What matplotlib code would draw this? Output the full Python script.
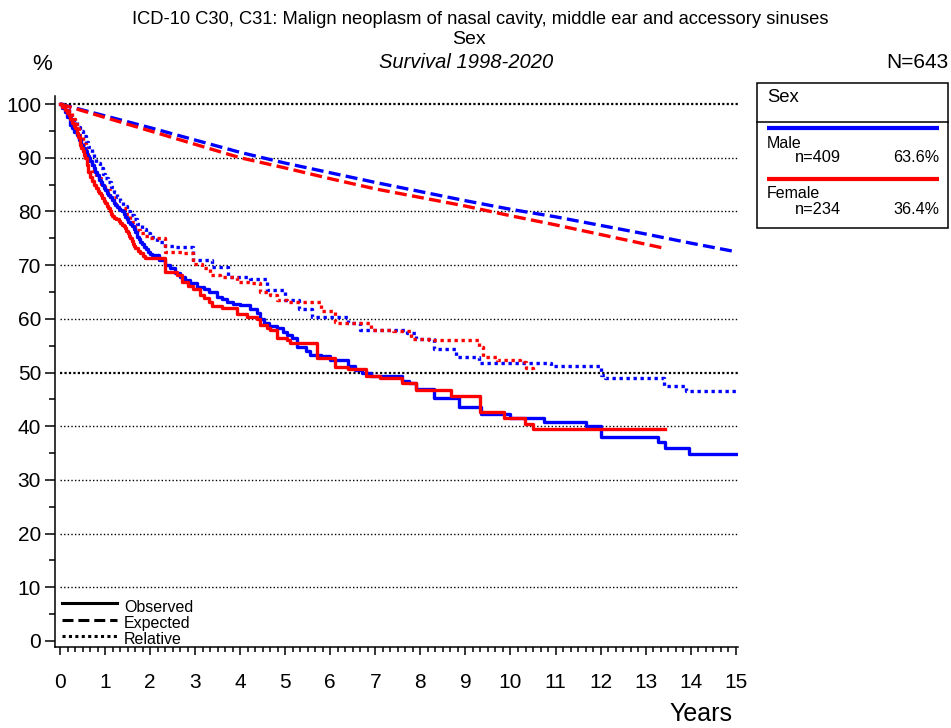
import matplotlib
matplotlib.use('Agg')
import matplotlib.pyplot as plt
from matplotlib.ticker import MultipleLocator
from matplotlib.patches import Rectangle

plt.rcParams['font.family'] = ['Liberation Sans', 'DejaVu Sans']

# ---------------- data ----------------
male_obs_t = [0, 0.05, 0.1, 0.15, 0.22, 0.27, 0.32, 0.37, 0.42, 0.47, 0.52, 0.56, 0.6, 0.64, 0.67,
              0.71, 0.75, 0.78, 0.82, 0.86, 0.9, 0.93, 0.97, 1.0, 1.04, 1.07, 1.11, 1.15, 1.19, 1.22,
              1.26, 1.3, 1.34, 1.37, 1.41, 1.45, 1.49, 1.52, 1.56, 1.6, 1.64, 1.67, 1.72, 1.75, 1.78,
              1.83, 1.87, 1.92, 1.96, 2.0, 2.05, 2.2, 2.33, 2.44, 2.55,
              2.67, 2.78, 2.89, 3.05, 3.19, 3.3, 3.48, 3.6, 3.7, 3.85, 4.0, 4.22, 4.37, 4.45, 4.52,
              4.65, 4.81, 4.95, 5.04, 5.15, 5.27, 5.45, 5.56, 5.8, 6.0, 6.4, 6.55, 6.7, 6.9, 7.6,
              7.75, 7.9, 8.3, 8.85, 9.35, 10.0, 10.75, 11.67, 12.0, 13.27, 13.44, 13.96, 15.0]
male_obs_s = [100, 99.3, 98.5, 97.5, 96.1, 95.5, 94.8, 94.2, 93.3, 92.4, 91.8, 91.2, 90.4, 89.9, 89.4,
              88.6, 88.0, 87.4, 86.7, 85.9, 85.4, 84.9, 84.3, 84.0, 83.5, 83.1, 82.6, 82.2, 81.6, 81.2,
              80.8, 80.5, 80.2, 80.0, 79.5, 79.0, 78.5, 78.1, 77.6, 77.2, 76.7, 76.2, 75.3, 74.8, 74.4,
              73.9, 73.4, 73.0, 72.5, 72.1, 71.8, 71.0, 70.0, 69.4, 68.5,
              67.8, 67.2, 66.6, 66.0, 65.6, 65.0, 64.1, 63.6, 63.2, 62.8, 62.5, 61.9, 61.0, 60.0, 59.2,
              58.6, 58.2, 57.5, 57.0, 56.5, 54.8, 54.0, 53.3, 53.0, 52.3, 51.2, 50.5, 50.0, 49.4, 48.5,
              48.0, 47.0, 45.3, 43.6, 42.3, 41.6, 40.8, 40.0, 37.9, 37.0, 36.0, 34.8, 34.8]

female_obs_t = [0, 0.05, 0.1, 0.15, 0.19, 0.23, 0.27, 0.3, 0.33, 0.37, 0.4, 0.44, 0.47, 0.5, 0.53,
                0.56, 0.6, 0.63, 0.67, 0.7, 0.75, 0.81, 0.84, 0.87, 0.9, 0.93, 0.97, 1.0, 1.04, 1.07,
                1.1, 1.13, 1.16, 1.19, 1.25, 1.3, 1.34, 1.38, 1.41, 1.44, 1.47, 1.5, 1.53, 1.56, 1.59,
                1.62, 1.65, 1.67, 1.73, 1.78, 1.84, 1.89, 2.33, 2.59, 2.7,
                2.85, 2.96, 3.11, 3.2, 3.3, 3.37, 3.6, 3.93, 4.15, 4.37, 4.44, 4.6, 4.67, 4.81, 5.04,
                5.1, 5.7, 6.1, 6.4, 6.8, 7.1, 7.6, 7.9, 8.67, 9.33, 9.85, 10.33, 10.5, 13.44]
female_obs_s = [100, 99.4, 98.8, 98.3, 97.9, 97.2, 96.5, 96.0, 95.5, 94.6, 93.8, 92.4, 91.8, 91.2, 90.6,
                90.0, 88.6, 87.4, 86.5, 85.6, 85.0, 84.4, 83.9, 83.4, 83.0, 82.5, 82.0, 81.5, 81.0, 80.6,
                80.1, 79.6, 79.2, 78.8, 78.5, 78.2, 77.8, 77.5, 77.2, 76.9, 76.4, 76.0, 75.5, 75.0, 74.5,
                74.0, 73.5, 73.1, 72.6, 72.2, 71.7, 71.3, 68.7, 68.1, 66.9,
                66.2, 65.6, 64.4, 63.8, 63.2, 62.3, 62.0, 60.9, 60.3, 59.9, 58.9, 58.3, 58.0, 56.5, 56.0,
                55.5, 52.7, 51.0, 50.7, 49.3, 48.9, 48.0, 46.7, 45.7, 42.7, 41.6, 40.5, 39.4, 39.4]

male_exp_t = [0, 1, 2, 3, 4, 5, 6, 7, 8, 9, 10, 11, 12, 13, 14, 15]
male_exp_s = [100, 97.8, 95.6, 93.3, 91.0, 89.0, 87.2, 85.4, 83.7, 82.0, 80.4, 79.0, 77.4, 75.8, 74.1, 72.5]

female_exp_t = [0, 1, 2, 3, 4, 5, 6, 7, 8, 9, 10, 11, 12, 13, 13.44]
female_exp_s = [100, 97.5, 95.0, 92.5, 90.0, 88.1, 86.1, 84.2, 82.6, 81.0, 79.2, 77.5, 75.7, 73.9, 73.1]

male_rel_t = [0, 0.1, 0.2, 0.3, 0.38, 0.44, 0.5, 0.57, 0.63, 0.7, 0.76, 0.81, 0.88, 0.95, 1.0,
              1.07, 1.13, 1.2, 1.27, 1.33, 1.4, 1.48, 1.56, 1.64, 1.72, 1.81, 1.9, 2.0, 2.15,
              2.33, 2.56, 2.96, 3.37, 3.74,
              4.22, 4.59, 5.0, 5.3, 5.6, 6.4, 6.67, 7.2, 7.7, 7.9, 8.3, 8.8, 9.3, 10.9, 12.0, 12.1,
              13.4, 13.9, 15.0]
male_rel_s = [100, 98.9, 97.7, 96.6, 95.7, 95.0, 94.0, 92.9, 92.0, 90.9, 89.9, 89.1, 88.0, 86.9, 86.3,
              85.4, 84.5, 83.6, 82.7, 81.9, 81.1, 80.1, 79.4, 78.6, 77.7, 76.8, 76.0, 75.3, 74.3,
              73.6, 73.3, 70.9, 69.7, 67.8,
              67.5, 65.4, 63.5, 61.9, 60.4, 59.2, 57.9, 58.0, 57.3, 56.2, 54.4, 52.9, 51.8, 51.2, 49.5, 48.9,
              47.5, 46.6, 46.6]

female_rel_t = [0, 0.1, 0.19, 0.26, 0.33, 0.42, 0.5, 0.57, 0.63, 0.72, 0.81, 0.9, 1.0, 1.1, 1.19,
                1.3, 1.44, 1.55, 1.67, 1.78, 1.89, 2.0, 2.33, 2.74, 2.96,
                3.15, 3.33, 3.56, 3.93, 4.22, 4.44, 4.67, 4.81, 5.04, 5.8, 6.1, 6.15, 6.9, 7.4, 7.8,
                8.2, 9.3, 9.4, 9.7, 10.2, 10.35, 10.5]
female_rel_s = [100, 99.0, 98.3, 97.3, 96.2, 94.3, 92.5, 90.7, 89.0, 87.6, 86.3, 85.1, 84.0, 82.6, 81.3,
                80.6, 79.6, 78.0, 76.5, 76.0, 75.5, 75.0, 72.5, 72.2, 70.3,
                69.4, 68.1, 67.8, 66.9, 66.6, 65.0, 64.4, 63.5, 63.2, 61.5, 59.5, 59.2, 58.0, 57.8, 56.2,
                56.0, 54.8, 52.8, 52.3, 52.0, 50.8, 50.2]

groups = ['Male', 'Female']
group_n = [409, 234]
group_pct = ['63.6%', '36.4%']
total_n = 643
y_ticks = [0, 10, 20, 30, 40, 50, 60, 70, 80, 90, 100]
x_ticks = list(range(0, 16))

# ---------------- figure ----------------
W, H = 951, 728
fig = plt.figure(figsize=(W / 100, H / 100), dpi=100)


def fx(px):
    return px / W


def fy(py):
    return 1 - py / H


ax = fig.add_axes([fx(55), fy(647), fx(738) - fx(55), fy(96) - fy(647)])
ax.set_xlim(-0.111, 15.05)
ax.set_ylim(-1.12, 101.5)

for s in ['top', 'right']:
    ax.spines[s].set_visible(False)
for s in ['left', 'bottom']:
    ax.spines[s].set_linewidth(1.1)

# grid lines
for v in y_ticks[1:]:
    if v in (50, 100):
        ax.plot([0, 15.05], [v, v], color='black', lw=1.6, ls=(0, (1, 1)), zorder=1)
    else:
        ax.plot([0, 15.05], [v, v], color='black', lw=1.0, ls=(0, (1, 1.6)), zorder=1)

blue = '#0000ff'
red = '#ff0000'
lw = 2.4
dash = (0, (3.6, 1.6))
dot = (0, (1, 1.1))
ax.plot(male_exp_t, male_exp_s, color=blue, lw=lw, ls=dash, zorder=3)
ax.plot(female_exp_t, female_exp_s, color=red, lw=lw, ls=dash, zorder=3)
ax.plot(male_rel_t, male_rel_s, color=blue, lw=lw, ls=dot, drawstyle='steps-post', zorder=3)
ax.plot(female_rel_t, female_rel_s, color=red, lw=lw, ls=dot, drawstyle='steps-post', zorder=3)
ax.plot(male_obs_t, male_obs_s, color=blue, lw=lw, drawstyle='steps-post', zorder=4)
ax.plot(female_obs_t, female_obs_s, color=red, lw=lw, drawstyle='steps-post', zorder=4)

ax.set_yticks(y_ticks)
ax.set_yticklabels([str(v) for v in y_ticks])
ax.yaxis.set_minor_locator(MultipleLocator(5))
ax.set_xticks(x_ticks)
ax.set_xticklabels([str(v) for v in x_ticks])
ax.xaxis.set_minor_locator(MultipleLocator(1 / 6))
ax.tick_params(axis='y', which='major', labelsize=15, length=7, width=1.1, pad=3)
ax.tick_params(axis='y', which='minor', length=4, width=1.1)
ax.tick_params(axis='x', which='major', labelsize=15, length=6, width=1.1, pad=13)
ax.tick_params(axis='x', which='minor', length=3.5, width=1.1)

# ---------------- overlay (pixel coordinates) ----------------
ov = fig.add_axes([0, 0, 1, 1])
ov.set_xlim(0, W)
ov.set_ylim(H, 0)
ov.axis('off')
ov.patch.set_alpha(0)

fig.text(fx(480), fy(19), 'ICD-10 C30, C31: Malign neoplasm of nasal cavity, middle ear and accessory sinuses',
         ha='center', va='center', fontsize=13.2)
fig.text(fx(469), fy(40), 'Sex', ha='center', va='center', fontsize=14)
fig.text(fx(466), fy(62), 'Survival 1998-2020', ha='center', va='center', fontsize=14.5, style='italic')
fig.text(fx(42), fy(65), '%', ha='center', va='center', fontsize=16)
fig.text(fx(948), fy(62), f'N={total_n}', ha='right', va='center', fontsize=15)
fig.text(fx(701), fy(714), 'Years', ha='center', va='center', fontsize=18)

# legend box
ov.add_patch(Rectangle((757, 83), 191, 145, fill=False, lw=1.1, ec='black'))
ov.plot([757, 948], [121.5, 121.5], color='black', lw=1.1)
ov.text(767, 98, 'Sex', ha='left', va='center', fontsize=13.3)
colors = [blue, red]
line_y = [128, 179]
for i, g in enumerate(groups):
    y0 = line_y[i]
    ov.plot([767, 939], [y0, y0], color=colors[i], lw=3, solid_capstyle='butt')
    ov.text(767, y0 + 15, g, ha='left', va='center', fontsize=11.5)
    ov.text(795, y0 + 30, f'n={group_n[i]}', ha='left', va='center', fontsize=11.8)
    ov.text(939, y0 + 30, group_pct[i], ha='right', va='center', fontsize=11.6)

# line-style legend
styles = [('Observed', '-'), ('Expected', dash), ('Relative', dot)]
for i, (lab, ls) in enumerate(styles):
    y0 = 603 + 16.5 * i
    ov.plot([62, 117], [y0, y0], color='black', lw=2.2, ls=ls)
    ov.text(124, y0 + 4, lab, ha='left', va='center', fontsize=11.5)

fig.savefig('out.png', dpi=100)
